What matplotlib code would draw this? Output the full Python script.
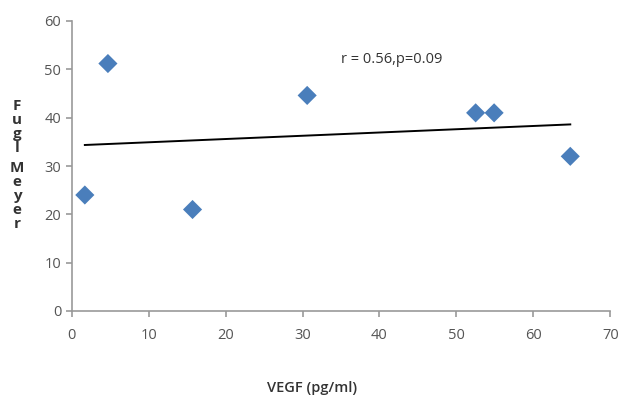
import matplotlib
matplotlib.use("Agg")
import matplotlib.pyplot as plt
import numpy as np

plt.rcParams['font.family'] = ['Open Sans', 'DejaVu Sans']

vegf = [1.7, 4.7, 15.7, 30.6, 52.5, 54.9, 64.8]
fugl_meyer = [24.0, 51.2, 21.0, 44.6, 41.0, 41.0, 32.0]
annotation = "r = 0.56,p=0.09"

fig = plt.figure(figsize=(6.24, 4.0), dpi=100)
ax = fig.add_axes([0.115, 0.2225, 0.863, 0.725])

# linear trend line over the data range
slope, intercept = np.polyfit(vegf, fugl_meyer, 1)
xs = np.array([min(vegf), max(vegf)])
ax.plot(xs, slope * xs + intercept, color='black', lw=1.4, zorder=2)

ax.scatter(vegf, fugl_meyer, marker='D', s=95, color='#4A7EBB', zorder=3,
           edgecolors='none')

ax.set_xlim(0, 70)
ax.set_ylim(0, 60)
ax.set_xticks(range(0, 71, 10))
ax.set_yticks(range(0, 61, 10))

for side in ['top', 'right']:
    ax.spines[side].set_visible(False)
for side in ['left', 'bottom']:
    ax.spines[side].set_color('#999999')
    ax.spines[side].set_linewidth(1.2)
ax.tick_params(colors='#999999', labelcolor='#555555', labelsize=10.5,
               direction='out', length=4, width=1.2)
ax.tick_params(axis='x', pad=8)

ax.text(35, 50.5, annotation, fontsize=10.5, color='#333333', ha='left', va='bottom')

fig.text(0.5, 0.03, "VEGF (pg/ml)", ha='center', va='center', fontsize=10.5,
         fontweight='semibold', color='#333333')

# stacked vertical y label
ylabel = "Fugl Meyer"
y0 = 0.735
for ch in ylabel:
    if ch == ' ':
        y0 -= 0.015
        continue
    fig.text(0.027, y0, ch, ha='center', va='center', fontsize=11,
             fontweight='bold', color='#333333')
    y0 -= 0.035

fig.savefig("out.png", dpi=100)
